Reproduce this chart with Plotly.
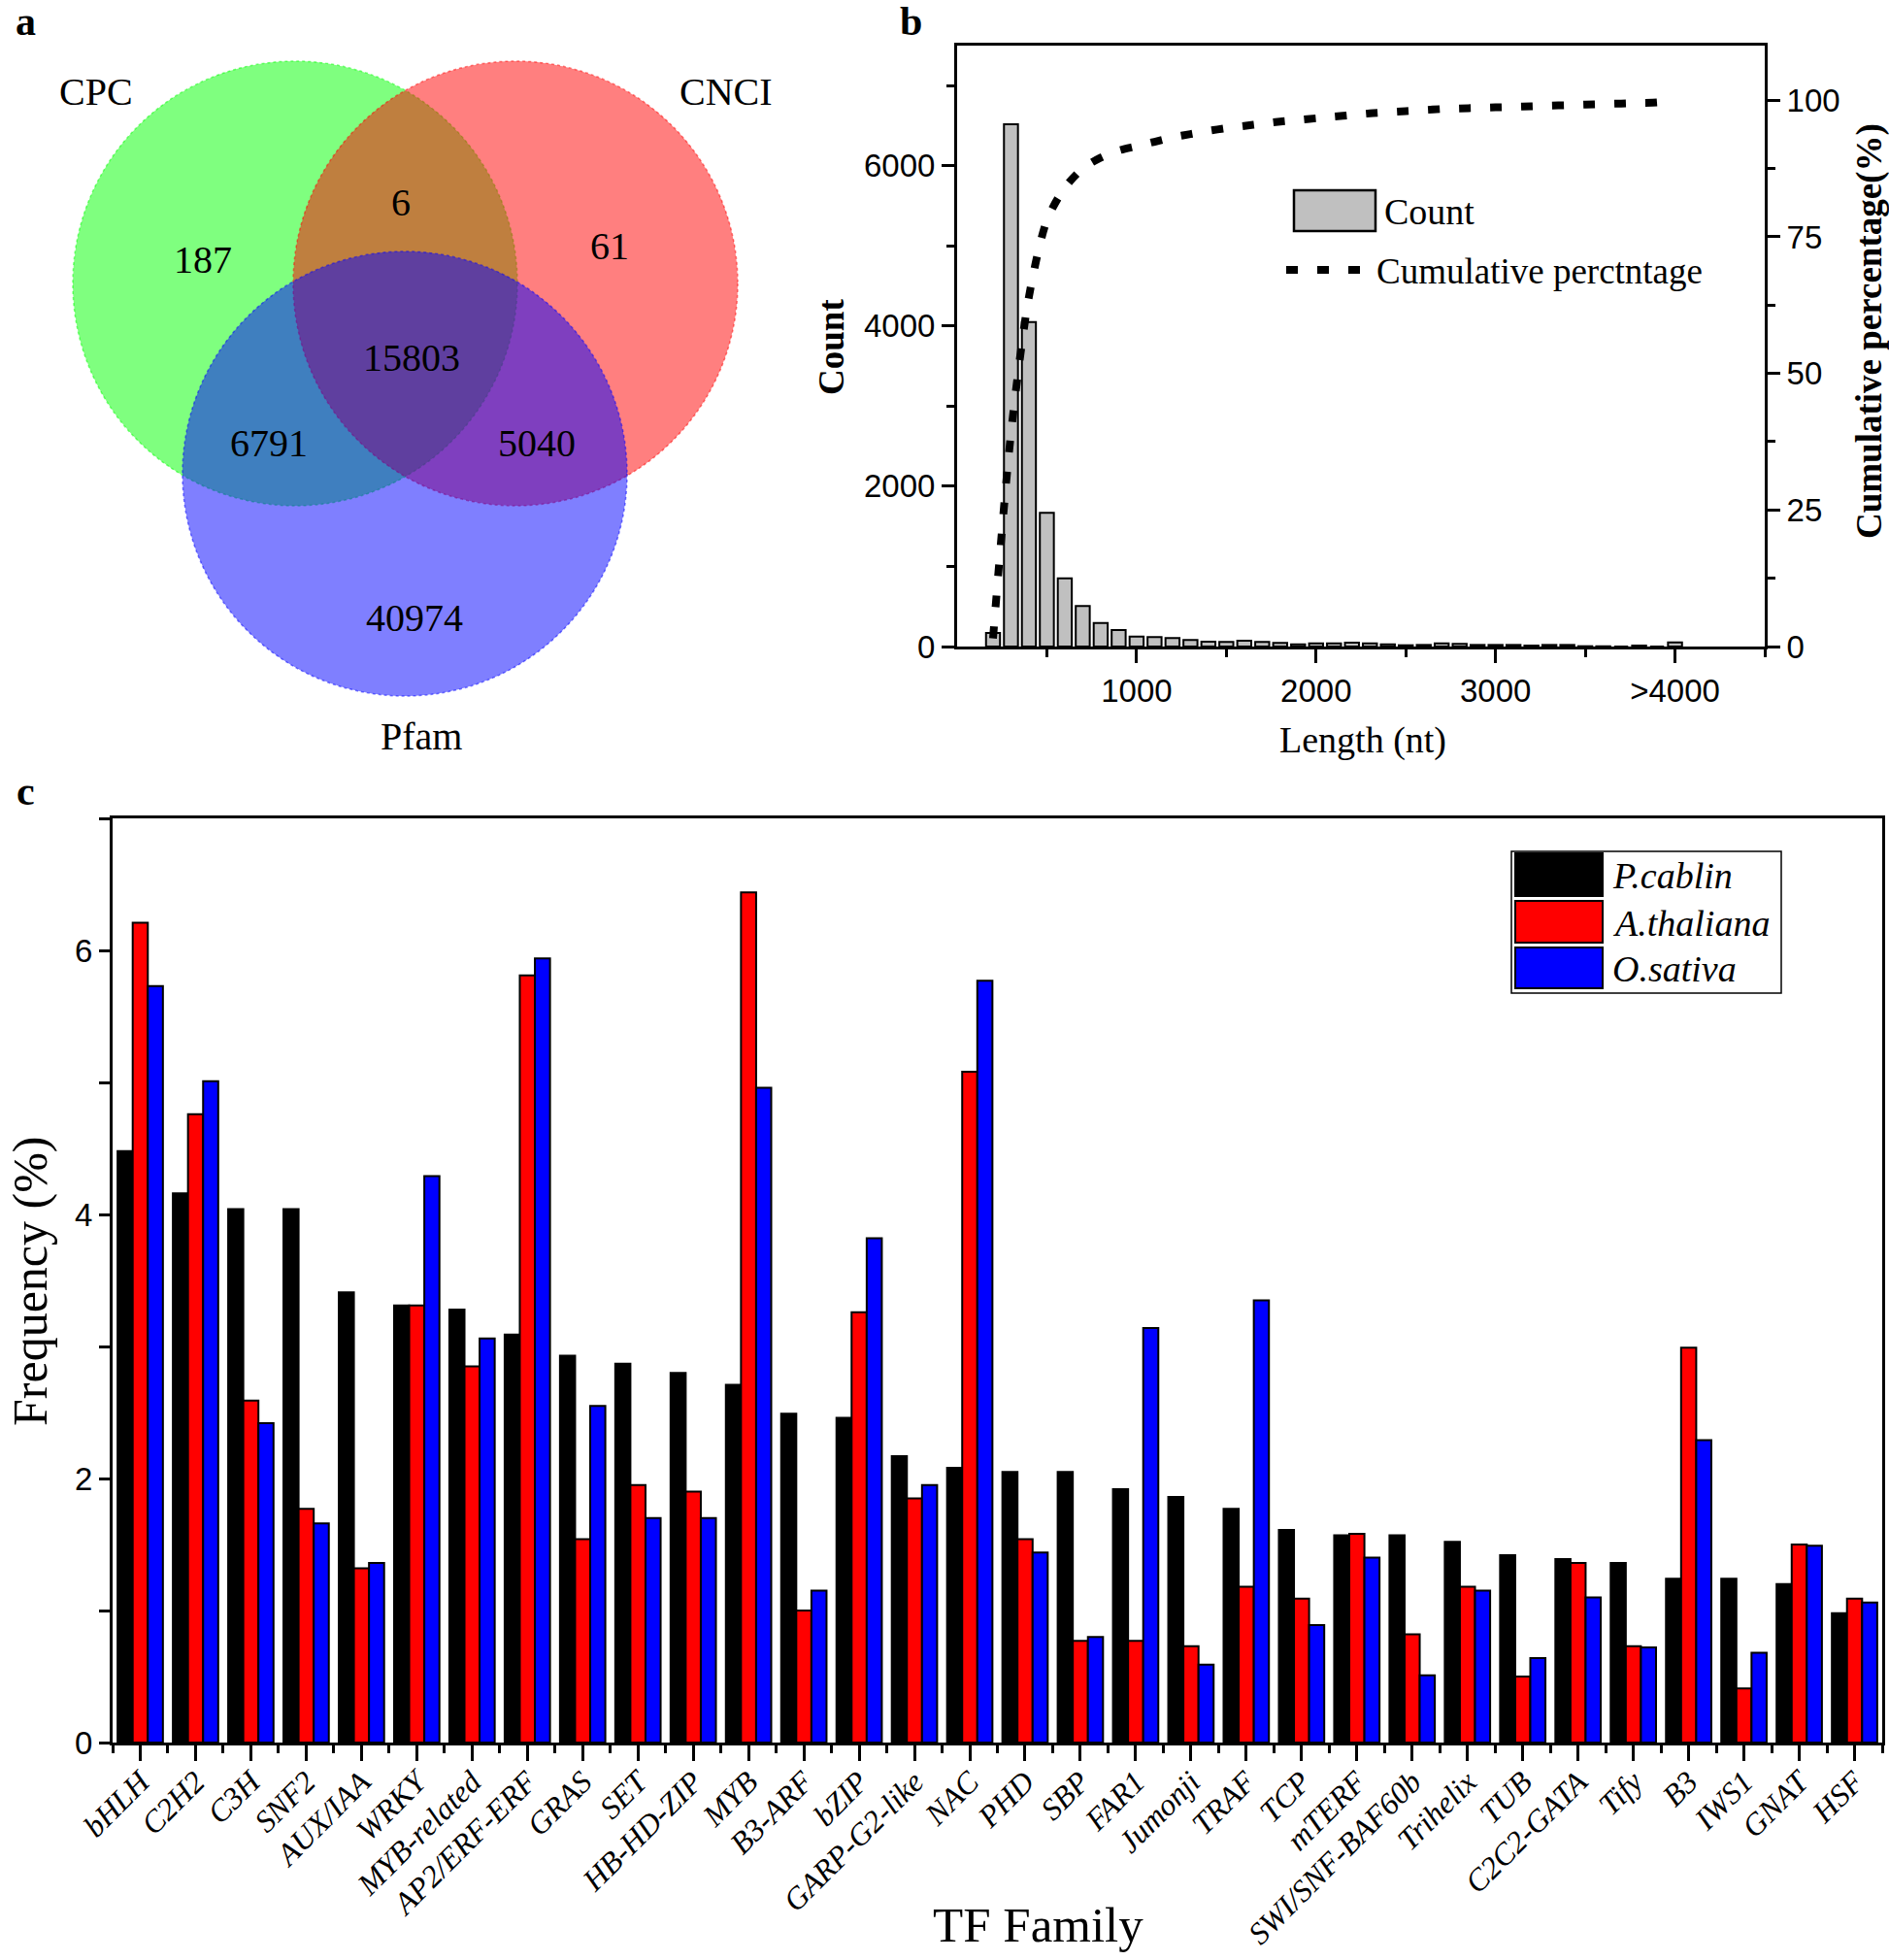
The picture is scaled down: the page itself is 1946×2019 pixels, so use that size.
import plotly.graph_objects as go

W, H = 1946, 2019

# ---------------- data ----------------
# panel a: Venn counts
venn_sets = ["CPC", "CNCI", "Pfam"]
venn_region_labels = ["CPC only", "CPC&CNCI", "CNCI only", "all", "CPC&Pfam", "CNCI&Pfam", "Pfam only"]
venn_region_counts = [187, 6, 61, 15803, 6791, 5040, 40974]

# panel b: length distribution
length_bins = [200, 300, 400, 500, 600, 700, 800, 900, 1000, 1100, 1200, 1300, 1400,
               1500, 1600, 1700, 1800, 1900, 2000, 2100, 2200, 2300, 2400, 2500, 2600,
               2700, 2800, 2900, 3000, 3100, 3200, 3300, 3400, 3500, 3600, 3700, 3800,
               3900, 4000]
counts = [170, 6520, 4050, 1670, 850, 505, 295, 205, 125, 117, 105, 81, 61,
          57, 73, 57, 44, 28, 40, 40, 48, 40, 28, 16, 20,
          40, 32, 20, 20, 20, 12, 20, 20, 4, 3, 0, 12,
          0, 52]
cumulative = [1.5, 39, 64, 78, 84, 87.5, 89.5, 90.8, 91.6, 92.4, 93.2, 93.8, 94.4,
              94.9, 95.3, 95.7, 96.1, 96.4, 96.7, 97.0, 97.3, 97.6, 97.8, 98.0, 98.2,
              98.4, 98.5, 98.6, 98.7, 98.8, 98.9, 99.0, 99.1, 99.2, 99.3, 99.4, 99.5,
              99.6, 100]
length_tickvals = [1000, 2000, 3000, 4000]
length_ticktext = ["1000", "2000", "3000", ">4000"]

# panel c: TF families
families = ["bHLH", "C2H2", "C3H", "SNF2", "AUX/IAA", "WRKY", "MYB-related", "AP2/ERF-ERF",
            "GRAS", "SET", "HB-HD-ZIP", "MYB", "B3-ARF", "bZIP", "GARP-G2-like", "NAC",
            "PHD", "SBP", "FAR1", "Jumonji", "TRAF", "TCP", "mTERF", "SWI/SNF-BAF60b",
            "Trihelix", "TUB", "C2C2-GATA", "Tify", "B3", "IWS1", "GNAT", "HSF"]
p_cablin = [4.48, 4.16, 4.04, 4.04, 3.41, 3.31, 3.28, 3.09, 2.93, 2.87, 2.80, 2.71, 2.49,
            2.46, 2.17, 2.08, 2.05, 2.05, 1.92, 1.86, 1.77, 1.61, 1.57, 1.57, 1.52, 1.42,
            1.39, 1.36, 1.24, 1.24, 1.20, 0.98]
a_thaliana = [6.21, 4.76, 2.59, 1.77, 1.32, 3.31, 2.85, 5.81, 1.54, 1.95, 1.90, 6.44, 1.00,
              3.26, 1.85, 5.08, 1.54, 0.77, 0.77, 0.73, 1.18, 1.09, 1.58, 0.82, 1.18, 0.50,
              1.36, 0.73, 2.99, 0.41, 1.50, 1.09]
o_sativa = [5.73, 5.01, 2.42, 1.66, 1.36, 4.29, 3.06, 5.94, 2.55, 1.70, 1.70, 4.96, 1.15,
            3.82, 1.95, 5.77, 1.44, 0.80, 3.14, 0.59, 3.35, 0.89, 1.40, 0.51, 1.15, 0.64,
            1.10, 0.72, 2.29, 0.68, 1.49, 1.06]
species = ["P.cablin", "A.thaliana", "O.sativa"]
species_colors = ["#000000", "#FF0000", "#0000FF"]

# ---------------- helpers (pixel -> paper) ----------------
def px(x):
    return x / W

def py(y):
    return 1 - y / H

SERIF = "Liberation Serif"
SANS = "Liberation Sans"


def ann(x, y, text, size, family=SERIF, angle=0, xanchor="center", italic=False):
    font = dict(family=family, size=size, color="black")
    if italic:
        font["style"] = "italic"
    return dict(x=px(x), y=py(y), xref="paper", yref="paper", text=text, showarrow=False,
                xanchor=xanchor, yanchor="middle", textangle=angle, font=font,
                borderpad=0)


fig = go.Figure()

# ---------------- panel c bars ----------------
xpos = list(range(len(families)))
for name, vals, col in zip(species, [p_cablin, a_thaliana, o_sativa], species_colors):
    fig.add_trace(go.Bar(x=xpos, y=vals, name=name, xaxis="x", yaxis="y",
                         marker=dict(color=col, line=dict(color="black", width=2)),
                         showlegend=False))

# ---------------- panel b ----------------
fig.add_trace(go.Bar(x=length_bins, y=counts, width=78, xaxis="x2", yaxis="y2",
                     marker=dict(color="#C0C0C0", line=dict(color="black", width=2)),
                     showlegend=False))
fig.add_trace(go.Scatter(x=length_bins, y=cumulative, mode="lines", xaxis="x2", yaxis="y3",
                         line=dict(color="black", width=8, dash="12px,20px",
                                   shape="spline", smoothing=0.8),
                         showlegend=False))

tickfont_sans = dict(family=SANS, size=33, color="black")

common = dict(automargin=False, showgrid=False, zeroline=False, showline=True,
              linewidth=3, linecolor="black", ticks="outside", tickwidth=2.5,
              tickcolor="black")

fig.update_layout(
    template="none",
    width=W, height=H, autosize=False,
    margin=dict(l=0, r=0, t=0, b=0, pad=0),
    paper_bgcolor="white", plot_bgcolor="rgba(0,0,0,0)",
    barmode="group", bargap=0.18, bargroupgap=0,
    showlegend=False,
    xaxis=dict(domain=[px(116), px(1939)], range=[-0.5, len(families) - 0.5],
               anchor="y", tickmode="array", tickvals=xpos, ticktext=families,
               tickangle=-45, tickfont=dict(family=SERIF, size=32, color="black", style="italic"),
               ticklen=16, ticklabelstandoff=-10,
               minor=dict(tick0=0.5, dtick=1, ticks="outside", ticklen=8, tickwidth=2.5,
                          tickcolor="black"),
               mirror=True, **common),
    yaxis=dict(domain=[py(1795), py(843)], range=[0, 7], anchor="x",
               tickmode="linear", tick0=0, dtick=2, tickfont=tickfont_sans,
               ticklen=11,
               minor=dict(tick0=1, dtick=2, ticks="outside", ticklen=11, tickwidth=2.5,
                          tickcolor="black"),
               mirror=True, **common),
    xaxis2=dict(domain=[px(986), px(1818)], range=[0, 4500], anchor="y2",
                tickmode="array", tickvals=length_tickvals, ticktext=length_ticktext,
                tickfont=tickfont_sans, ticklen=14,
                minor=dict(tick0=500, dtick=1000, ticks="outside", ticklen=8, tickwidth=2.5,
                           tickcolor="black"),
                mirror=True, **common),
    yaxis2=dict(domain=[py(666), py(47)], range=[0, 7500], anchor="x2",
                tickmode="array", tickvals=[0, 2000, 4000, 6000], tickfont=tickfont_sans,
                ticklen=13,
                minor=dict(tickmode="array", tickvals=[1000, 3000, 5000, 7000], ticks="outside",
                           ticklen=8, tickwidth=2.5, tickcolor="black"),
                **common),
    yaxis3=dict(overlaying="y2", side="right", range=[0, 110], anchor="x2",
                tickmode="array", tickvals=[0, 25, 50, 75, 100], tickfont=tickfont_sans,
                ticklen=13,
                minor=dict(tickmode="array", tickvals=[12.5, 37.5, 62.5, 87.5], ticks="outside",
                           ticklen=8, tickwidth=2.5, tickcolor="black"),
                **common),
)

shapes = []
annotations = []

# ---------------- panel a: Venn ----------------
venn_circles = [  # (cx, cy, r, rgba) in pixels
    (304, 292, 229, "rgba(0,255,0,0.5)"),
    (531, 292, 229, "rgba(255,0,0,0.5)"),
    (417, 488, 229, "rgba(0,0,255,0.5)"),
]
for cx, cy, r, col in venn_circles:
    shapes.append(dict(type="circle", xref="paper", yref="paper",
                       x0=px(cx - r), x1=px(cx + r), y0=py(cy + r), y1=py(cy - r),
                       fillcolor=col, line=dict(color=col, width=1.5, dash="dot"),
                       layer="above"))

venn_set_pos = [(99, 94), (748, 94), (434, 758)]
for name, (x, y) in zip(venn_sets, venn_set_pos):
    annotations.append(ann(x, y, name, 40))
venn_count_pos = [(209, 268), (413, 209), (628, 253), (424, 368), (277, 457), (553, 457), (427, 636)]
for cnt, (x, y) in zip(venn_region_counts, venn_count_pos):
    annotations.append(ann(x, y, str(cnt), 40))

# ---------------- panel letters ----------------
for letter, (x, y) in zip(["a", "b", "c"], [(26, 22), (938, 22), (26, 815)]):
    annotations.append(ann(x, y, "<b>%s</b>" % letter, 42))

# ---------------- axis titles ----------------
annotations += [
    ann(856, 358, "<b>Count</b>", 37, angle=-90),
    ann(1926, 341, "<b>Cumulative percentage(%)</b>", 37, angle=-90),
    ann(1404, 762, "Length (nt)", 38),
    ann(31, 1320, "Frequency (%)", 50, angle=-90),
    ann(1069, 1983, "TF Family", 51),
]

# ---------------- panel b legend ----------------
shapes.append(dict(type="rect", xref="paper", yref="paper", x0=px(1333), x1=px(1417),
                   y0=py(238), y1=py(196), fillcolor="#C0C0C0", line=dict(color="black", width=2.5)))
shapes.append(dict(type="line", xref="paper", yref="paper", x0=px(1325), x1=px(1401),
                   y0=py(278), y1=py(278), line=dict(color="black", width=8, dash="12px,20px")))
annotations += [
    ann(1425, 218, "Count", 38, xanchor="left"),
    ann(1417, 280, "Cumulative perctntage", 37, xanchor="left"),
]

# ---------------- panel c legend ----------------
shapes.append(dict(type="rect", xref="paper", yref="paper", x0=px(1557), x1=px(1835),
                   y0=py(1023), y1=py(877), fillcolor="white", line=dict(color="black", width=1.5)))
legend_rows = [(879, 923), (928, 971), (976, 1018)]
for name, col, (y0, y1) in zip(species, species_colors, legend_rows):
    shapes.append(dict(type="rect", xref="paper", yref="paper", x0=px(1561), x1=px(1651),
                       y0=py(y1), y1=py(y0), fillcolor=col, line=dict(color="black", width=2)))
    annotations.append(ann(1660, (y0 + y1) / 2 + 1, name, 38, xanchor="left", italic=True))

fig.update_layout(shapes=shapes, annotations=annotations)

fig.write_html("out.html", config={"displayModeBar": False},
               post_script="document.body.style.margin='0px';document.body.style.overflow='hidden';")
